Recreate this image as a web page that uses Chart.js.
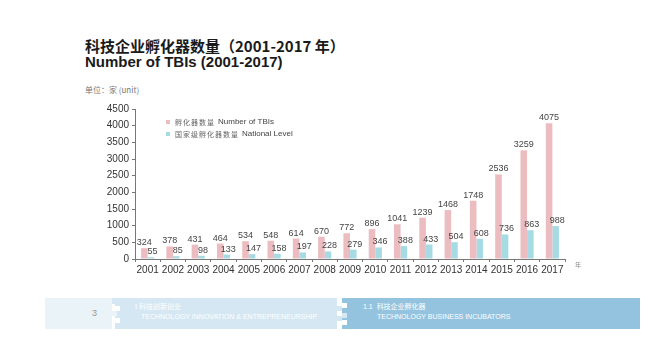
<!DOCTYPE html>
<html>
<head>
<meta charset="utf-8">
<script src="https://cdn.jsdelivr.net/npm/chart.js@4.4.1/dist/chart.umd.min.js"></script>
<style>
  body { margin: 0; width: 663px; height: 350px; background: #fff; position: relative; overflow: hidden; font-family: "Liberation Sans", Arial, sans-serif; }
  .abs { position: absolute; white-space: nowrap; }
  #t1 { left: 85px; top: 35px; font: bold 15px "Noto Sans CJK SC", sans-serif; color: #1a1a1a; }
  #t2 { left: 85px; top: 53px; font: bold 15px "Liberation Sans", Arial, sans-serif; color: #1a1a1a; }
  #unit { left: 85px; top: 84px; font: 8px "Noto Sans CJK SC", sans-serif; color: #777; }
  #chart { position: absolute; left: 0; top: 100px; }
  .band { position: absolute; top: 298px; height: 31px; }
  .sq { position: absolute; width: 5px; height: 5px; }
  .wt { color: #fff; font-size: 7px; line-height: 9px; }
</style>
</head>
<body>
<div class="abs" id="t1">科技企业孵化器数量（2001-2017 年）</div>
<div class="abs" id="t2">Number of TBIs (2001-2017)</div>
<div class="abs" id="unit">单位：家 (unit)</div>

<canvas id="chart" width="600" height="177"></canvas>

<!-- footer band -->
<div class="band" style="left:45px;width:67px;background:#eaf3f8;"></div>
<div class="band" style="left:115px;width:222px;background:#d4e7f2;"></div>
<div class="band" style="left:342px;width:298px;background:#93c3de;"></div>
<div class="sq" style="left:112px;top:298px;background:#d4e7f2;height:6px;"></div>
<div class="sq" style="left:115px;top:306px;background:#fff;"></div>
<div class="sq" style="left:112px;top:311px;background:#eaf3f8;"></div>
<div class="sq" style="left:115px;top:318px;background:#fff;"></div>
<div class="sq" style="left:337px;top:306px;background:#d4e7f2;"></div>
<div class="sq" style="left:337px;top:316px;background:#d4e7f2;"></div>
<div class="sq" style="left:342px;top:303px;background:#fff;"></div>
<div class="sq" style="left:342px;top:313px;background:#d4e7f2;"></div>
<div class="sq" style="left:342px;top:320px;background:#fff;"></div>
<div class="abs" style="left:92px;top:308px;font-size:9px;color:#999;">3</div>
<div class="abs wt" style="left:135px;top:302px;">Ⅰ&nbsp;<span style="font-family:'Noto Sans CJK SC';">科技创新创业</span></div>
<div class="abs wt" style="left:141px;top:312px;">TECHNOLOGY INNOVATION &amp; ENTREPRENEURSHIP</div>
<div class="abs wt" style="left:363px;top:302px;">1.1&nbsp;&nbsp;<span style="font-family:'Noto Sans CJK SC';">科技企业孵化器</span></div>
<div class="abs wt" style="left:377px;top:312px;">TECHNOLOGY BUSINESS INCUBATORS</div>

<script>
const years = ['2001', '2002', '2003', '2004', '2005', '2006', '2007', '2008', '2009',
  '2010', '2011', '2012', '2013', '2014', '2015', '2016', '2017'];
const tbiTotal = [324, 378, 431, 464, 534, 548, 614, 670, 772, 896, 1041, 1239, 1468, 1748, 2536, 3259, 4075];
const tbiNational = [55, 85, 98, 133, 147, 158, 197, 228, 279, 346, 388, 433, 504, 608, 736, 863, 988];
const seriesNames = [['孵化器数量', 'Number of TBIs'], ['国家级孵化器数量', 'National Level']];
const yMax = 4500;
const yStep = 500;

const pink = '#ebbcc0';
const cyan = '#a6dbe4';

// value labels, legend and the unit mark at the end of the x axis
const extras = {
  id: 'extras',
  afterDatasetsDraw(chart) {
    const ctx = chart.ctx;
    const area = chart.chartArea;
    ctx.save();
    ctx.font = '9px "Liberation Sans", Arial, sans-serif';
    ctx.fillStyle = '#444';
    ctx.textAlign = 'center';
    ctx.textBaseline = 'bottom';
    chart.data.datasets.forEach((ds, i) => {
      chart.getDatasetMeta(i).data.forEach((bar, j) => {
        ctx.fillText(ds.data[j], bar.x + (i === 1 ? 1.5 : 0), bar.y - 1);
      });
    });

    // legend
    ctx.textAlign = 'left';
    ctx.textBaseline = 'middle';
    chart.data.datasets.forEach((ds, i) => {
      const y = area.top + 13 + i * 12;
      const x = area.left + 31;
      ctx.fillStyle = ds.backgroundColor;
      ctx.fillRect(x, y - 2, 4, 4);
      ctx.fillStyle = '#666';
      ctx.font = '7px "Noto Sans CJK SC", sans-serif';
      ctx.letterSpacing = '1px';
      ctx.fillText(seriesNames[i][0], x + 9, y);
      const w = ctx.measureText(seriesNames[i][0]).width;
      ctx.letterSpacing = '0px';
      ctx.font = '8px "Liberation Sans", Arial, sans-serif';
      ctx.fillStyle = '#444';
      ctx.fillText(seriesNames[i][1], x + 9 + w + 3, y);
    });

    ctx.font = '6px "Noto Sans CJK SC", sans-serif';
    ctx.fillStyle = '#888';
    ctx.fillText('年', area.right + 10, area.bottom + 6);
    ctx.restore();
  }
};

new Chart(document.getElementById('chart'), {
  type: 'bar',
  data: {
    labels: years,
    datasets: [
      { label: seriesNames[0].join(' '), data: tbiTotal, backgroundColor: pink },
      { label: seriesNames[1].join(' '), data: tbiNational, backgroundColor: cyan }
    ]
  },
  options: {
    responsive: false,
    animation: false,
    layout: { padding: { top: 8, right: 35, left: 0, bottom: 0 } },
    datasets: { bar: { categoryPercentage: 0.52, barPercentage: 1 } },
    plugins: { legend: { display: false }, tooltip: { enabled: false } },
    scales: {
      x: {
        afterFit(scale) { scale.height = 18; },
        grid: { drawOnChartArea: false, tickLength: 3, color: '#777', offset: true },
        border: { color: '#777' },
        ticks: {
          padding: 2, color: '#333', autoSkip: false, minRotation: 0, maxRotation: 0,
          font: { size: 10, family: '"Liberation Sans", Arial, sans-serif' }
        }
      },
      y: {
        min: 0,
        max: yMax,
        afterFit(scale) { scale.width = 135; },
        grid: { drawOnChartArea: false, tickLength: 3, color: '#777' },
        border: { color: '#777' },
        ticks: {
          stepSize: yStep, padding: 3, color: '#333',
          callback: (v) => String(v),
          font: { size: 10, family: '"Liberation Sans", Arial, sans-serif' }
        }
      }
    }
  },
  plugins: [extras]
});
</script>
</body>
</html>
